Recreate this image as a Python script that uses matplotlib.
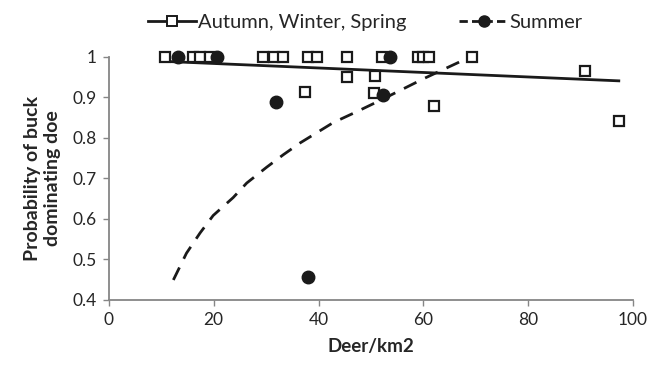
import numpy as np
import matplotlib
matplotlib.use("Agg")
import matplotlib.pyplot as plt
from matplotlib.lines import Line2D

plt.rcParams['font.family'] = ['Lato', 'DejaVu Sans']

# Autumn, Winter, Spring observations
aws_x = [10.7, 16.1, 17.4, 19.3, 29.4, 31.5, 33.3, 38.0, 39.7, 45.4, 52.1,
         59.0, 60.0, 61.0, 69.3, 45.4, 50.8, 37.4, 50.5, 62.0, 90.8, 97.3]
aws_y = [1.0, 1.0, 1.0, 1.0, 1.0, 1.0, 1.0, 1.0, 1.0, 1.0, 1.0,
         1.0, 1.0, 1.0, 1.0, 0.949, 0.951, 0.913, 0.910, 0.877, 0.964, 0.842]

# Summer observations
sum_x = [13.2, 20.6, 31.9, 37.9, 52.4, 53.7]
sum_y = [1.0, 1.0, 0.888, 0.456, 0.904, 1.0]

# trend lines
aws_trend_x = [10.7, 97.3]
aws_trend_y = [0.988, 0.940]
sum_trend_x = [12.3, 14.8, 17.4, 19.9, 23.7, 26.3, 30.1, 33.3, 36.5, 42.8, 47.3, 51.8, 60.0, 68.3]
sum_trend_y = [0.449, 0.515, 0.565, 0.608, 0.652, 0.688, 0.727, 0.758, 0.787, 0.837, 0.864, 0.892, 0.945, 0.995]

x_ticks = [0, 20, 40, 60, 80, 100]
y_ticks = [0.4, 0.5, 0.6, 0.7, 0.8, 0.9, 1.0]
y_labels = ['0.4', '0.5', '0.6', '0.7', '0.8', '0.9', '1']

fig = plt.figure(figsize=(6.6, 3.67), dpi=100)
ax = fig.add_axes([0.165, 0.183, 0.794, 0.663])

ax.plot(aws_trend_x, aws_trend_y, color='#1a1a1a', lw=2, zorder=2, clip_on=False)
ax.plot(sum_trend_x, sum_trend_y, color='#1a1a1a', lw=2, ls=(0, (5, 3.5)), zorder=2, clip_on=False)
ax.plot(aws_x, aws_y, ls='none', marker='s', ms=7, mfc='white', mec='#1a1a1a',
        mew=1.6, zorder=3, clip_on=False)
ax.plot(sum_x, sum_y, ls='none', marker='o', ms=9, color='#1a1a1a', zorder=4, clip_on=False)

ax.set_xlim(0, 100)
ax.set_ylim(0.4, 1.0)
ax.set_xticks(x_ticks)
ax.set_yticks(y_ticks)
ax.set_yticklabels(y_labels)
ax.tick_params(labelsize=12.5, colors='#262626', length=4, width=1, color='#868686', pad=5)
for s in ['top', 'right']:
    ax.spines[s].set_visible(False)
for s in ['left', 'bottom']:
    ax.spines[s].set_color('#868686')
    ax.spines[s].set_linewidth(1.3)

ax.set_xlabel('Deer/km2', fontsize=13.5, fontweight='bold', color='#262626', labelpad=7)
ax.set_ylabel('Probability of buck\ndominating doe', fontsize=14, fontweight='bold',
              color='#262626', labelpad=8)

handles = [
    Line2D([], [], color='#1a1a1a', lw=2, marker='s', ms=7, mfc='white', mec='#1a1a1a', mew=1.4),
    Line2D([], [], color='#1a1a1a', lw=2, ls=(0, (3, 1.5)), marker='o', ms=8),
]
fig.legend(handles, ['Autumn, Winter, Spring', 'Summer'], loc='center left',
           bbox_to_anchor=(0.197, 0.94), ncol=2, frameon=False, fontsize=14.5,
           handlelength=2.4, handletextpad=0.1, columnspacing=2.6, labelcolor='#262626')

fig.savefig('out.png', dpi=100)
